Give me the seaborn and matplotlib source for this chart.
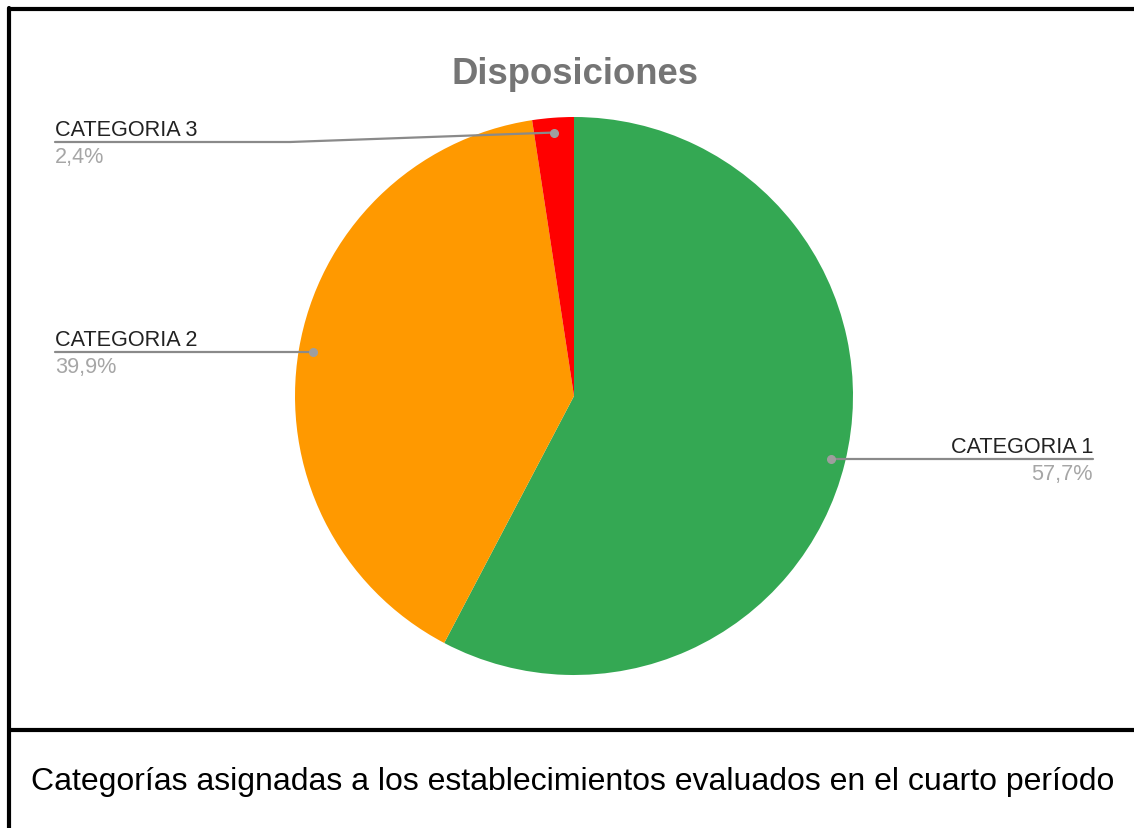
import matplotlib.pyplot as plt
import matplotlib.lines as mlines
import seaborn as sns
import numpy as np

categories = ["CATEGORIA 1", "CATEGORIA 2", "CATEGORIA 3"]
shares = [57.7, 39.9, 2.4]
pct_labels = ["57,7%", "39,9%", "2,4%"]
colors = ["#34a853", "#ff9900", "#ff0000"]

title = "Disposiciones"
caption = "Categorías asignadas a los establecimientos evaluados en el cuarto período"

sns.set_theme(style="white")
plt.rcParams['font.family'] = ['Liberation Sans', 'DejaVu Sans']

W, H = 1134, 829
fig = plt.figure(figsize=(W / 100, H / 100), dpi=100)
fig.patch.set_facecolor("white")

# pie axes placed so the circle sits at (574, 397) px with radius 279 px
cx, cy, R = 574, 397, 279
ax = fig.add_axes([(cx - R) / W, (H - cy - R) / H, 2 * R / W, 2 * R / H])
wedges, _ = ax.pie(shares, colors=colors, startangle=90, counterclock=False,
                   radius=1, wedgeprops=dict(linewidth=0))
ax.set_xlim(-1, 1)
ax.set_ylim(-1, 1)
ax.set_aspect("equal")
ax.axis("off")

# leader lines: dot inside the wedge, then out to the label (pixel layout)
label_layout = {
    0: dict(path=[1093], ha="right", tx=1093),
    1: dict(path=[55], ha="left", tx=55),
    2: dict(path=[(290, 143), (55, 143)], ha="left", tx=55),
}
grey = "#8a8a8a"
for i, w in enumerate(wedges):
    mid = np.deg2rad((w.theta1 + w.theta2) / 2)
    dx, dy = 0.947 * np.cos(mid), 0.947 * np.sin(mid)
    dot_px = (cx + dx * R, cy - dy * R)
    lay = label_layout[i]
    pts = [p if isinstance(p, tuple) else (p, dot_px[1]) for p in lay["path"]]
    line_y = pts[-1][1]
    xs = [dx] + [(p[0] - cx) / R for p in pts]
    ys = [dy] + [(cy - p[1]) / R for p in pts]
    ax.add_line(mlines.Line2D(xs, ys, color=grey, lw=1.6, clip_on=False))
    ax.plot(dx, dy, "o", color="#9e9e9e", ms=5.5, clip_on=False, zorder=5)
    fig.text(lay["tx"] / W, 1 - (line_y - 7.5) / H, categories[i], ha=lay["ha"],
             va="baseline", fontsize=15.6, color="#222222")
    fig.text(lay["tx"] / W, 1 - (line_y + 20) / H, pct_labels[i], ha=lay["ha"],
             va="baseline", fontsize=15.6, color="#a6a6a6")

fig.text(575 / W, 1 - 75 / H, title, ha="center", va="center",
         fontsize=26.3, fontweight="bold", color="#757575")

fig.text(573 / W, 1 - 782 / H, caption, ha="center", va="center",
         fontsize=23, color="#000000")

# table-like frame around the chart and caption
frame = dict(color="black", lw=3, transform=fig.transFigure)
fig.add_artist(mlines.Line2D([9 / W, 9 / W], [0, 1 - 9 / H], **frame))
fig.add_artist(mlines.Line2D([9 / W, 1], [1 - 9.5 / H, 1 - 9.5 / H], **frame))
fig.add_artist(mlines.Line2D([9 / W, 1], [1 - 730.5 / H, 1 - 730.5 / H], **frame))

fig.savefig("out.png", dpi=100, facecolor="white")
